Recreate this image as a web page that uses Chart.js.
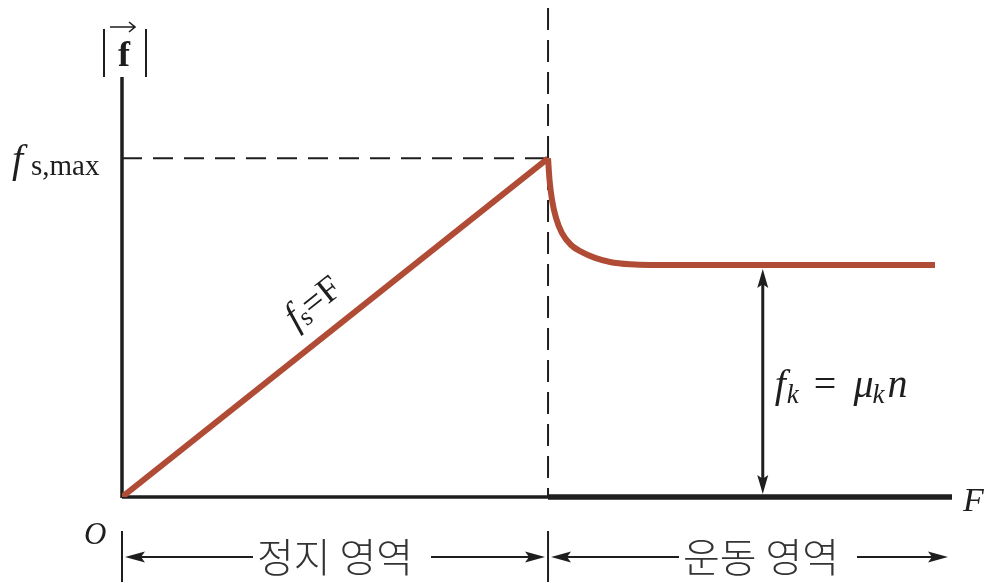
<!DOCTYPE html>
<html><head><meta charset="utf-8">
<script src="https://cdn.jsdelivr.net/npm/chart.js@4"></script>
<style>html,body{margin:0;padding:0;background:#fff;}#wrap{width:988px;height:583px;}</style>
</head><body><div id="wrap"><canvas id="c" width="988" height="583"></canvas></div>
<script>
// ---- data ----
const staticForce    = [0, 51.33];
const staticFriction = [0, 10];
const kineticForce    = [51.33, 51.51, 51.81, 52.29, 53.01, 54.10, 55.42, 56.99, 58.80, 61.20, 63.61, 97.95];
const kineticFriction = [10, 9.36, 8.77, 8.24, 7.79, 7.44, 7.23, 7.06, 6.94, 6.87, 6.85, 6.85];
const fsMax = 10;
const fkLevel = 6.85;
const fkArrowForce = 77.2;
const xMax = 100, yMax = 12.4;
const labels = {
  yAxis: 'f', fsMax: ['f', 's,max'], xAxis: 'F', origin: 'O',
  staticLine: ['f', 's', '=F'], kinetic: ['f', 'k', ' = ', 'μ', 'k', 'n'],
  staticRegion: '정지 영역', kineticRegion: '운동 영역'
};

const RED = '#b04c35', INK = '#1e1e1e';
const serif = "'Liberation Serif','DejaVu Serif',serif";
const kr = "'Noto Sans CJK KR','Noto Sans',sans-serif";

function head(ctx, x, y, ang, len, wid) {
  ctx.save(); ctx.translate(x, y); ctx.rotate(ang);
  ctx.beginPath(); ctx.moveTo(0, 0); ctx.lineTo(-len, -wid / 2); ctx.lineTo(-len * 0.8, 0); ctx.lineTo(-len, wid / 2); ctx.closePath();
  ctx.fill(); ctx.restore();
}

const deco = {
  id: 'deco',
  beforeDatasetsDraw(chart) {
    const { ctx, scales: { x, y }, chartArea: a } = chart;
    ctx.save();
    ctx.strokeStyle = INK; ctx.lineWidth = 2; ctx.setLineDash([20, 11]);
    ctx.beginPath(); ctx.moveTo(x.getPixelForValue(0), y.getPixelForValue(fsMax));
    ctx.lineTo(x.getPixelForValue(staticForce[1]), y.getPixelForValue(fsMax)); ctx.stroke();
    ctx.setLineDash([22, 10]);
    ctx.beginPath(); ctx.moveTo(x.getPixelForValue(staticForce[1]), 8);
    ctx.lineTo(x.getPixelForValue(staticForce[1]), y.getPixelForValue(0)); ctx.stroke();
    ctx.setLineDash([]);
    const x0 = x.getPixelForValue(0), y0 = y.getPixelForValue(0), xs = x.getPixelForValue(staticForce[1]);
    ctx.lineWidth = 3.5;
    ctx.beginPath(); ctx.moveTo(x0, a.top); ctx.lineTo(x0, y0 + 1); ctx.stroke();
    ctx.beginPath(); ctx.moveTo(x0, y0); ctx.lineTo(xs, y0); ctx.stroke();
    ctx.lineWidth = 5.5;
    ctx.beginPath(); ctx.moveTo(xs, y0); ctx.lineTo(a.right, y0); ctx.stroke();
    ctx.restore();
  },
  afterDatasetsDraw(chart) {
    const { ctx, scales: { x, y }, chartArea: a } = chart;
    const x0 = x.getPixelForValue(0), y0 = y.getPixelForValue(0);
    const xs = x.getPixelForValue(staticForce[1]);
    ctx.save();
    ctx.fillStyle = INK; ctx.strokeStyle = INK;
    // fk double arrow
    const xa = x.getPixelForValue(fkArrowForce), yt = y.getPixelForValue(fkLevel) + 4, yb = y0 - 3;
    ctx.lineWidth = 3;
    ctx.beginPath(); ctx.moveTo(xa, yt + 10); ctx.lineTo(xa, yb - 10); ctx.stroke();
    head(ctx, xa, yt, -Math.PI / 2, 19, 11);
    head(ctx, xa, yb, Math.PI / 2, 19, 11);
    // kinetic label
    ctx.textBaseline = 'alphabetic'; ctx.textAlign = 'left';
    let px = xa + 12, by = 397;
    ctx.font = 'italic 40px ' + serif; ctx.fillText(labels.kinetic[0], px, by); px += ctx.measureText(labels.kinetic[0]).width + 1;
    ctx.font = 'italic 27px ' + serif; ctx.fillText(labels.kinetic[1], px, by + 6); px += ctx.measureText(labels.kinetic[1]).width + 5;
    ctx.font = '40px ' + serif; ctx.fillText(labels.kinetic[2], px, by); px += ctx.measureText(labels.kinetic[2]).width + 7;
    ctx.font = 'italic 40px ' + serif; ctx.fillText(labels.kinetic[3], px, by); px += ctx.measureText(labels.kinetic[3]).width - 1;
    ctx.font = 'italic 27px ' + serif; ctx.fillText(labels.kinetic[4], px, by + 6); px += ctx.measureText(labels.kinetic[4]).width + 3;
    ctx.font = 'italic 40px ' + serif; ctx.fillText(labels.kinetic[5], px, by);
    // F axis label
    ctx.font = 'italic 34px ' + serif; ctx.fillText(labels.xAxis, a.right + 11, y0 + 14);
    // O
    ctx.font = 'italic 31px ' + serif; ctx.fillText(labels.origin, x0 - 38, y0 + 47);
    // fs,max label
    const yf = y.getPixelForValue(fsMax);
    ctx.font = 'italic 40px ' + serif; ctx.fillText(labels.fsMax[0], 12, yf + 14);
    ctx.font = '29px ' + serif; ctx.fillText(labels.fsMax[1], 31, yf + 17);
    // |f| y-axis label
    ctx.lineWidth = 2;
    ctx.beginPath(); ctx.moveTo(104, 29); ctx.lineTo(104, 77); ctx.moveTo(146, 29); ctx.lineTo(146, 77); ctx.stroke();
    ctx.font = 'bold 36px ' + serif; ctx.textAlign = 'center'; ctx.fillText(labels.yAxis, 124, 66);
    ctx.lineWidth = 1.6;
    ctx.beginPath(); ctx.moveTo(110, 27); ctx.lineTo(135, 27); ctx.moveTo(129, 22); ctx.lineTo(135, 27); ctx.lineTo(129, 32); ctx.stroke();
    // fs=F rotated label
    const ang = Math.atan2(y.getPixelForValue(staticFriction[1]) - y0, xs - x0);
    ctx.save(); ctx.translate(296, 330); ctx.rotate(ang); ctx.textAlign = 'left';
    let qx = 0;
    ctx.font = 'italic 38px ' + serif; ctx.fillText(labels.staticLine[0], qx, 0); qx += ctx.measureText(labels.staticLine[0]).width;
    ctx.font = '26px ' + serif; ctx.fillText(labels.staticLine[1], qx, 4); qx += ctx.measureText(labels.staticLine[1]).width;
    ctx.font = '36px ' + serif; ctx.fillText(labels.staticLine[2], qx, 0);
    ctx.restore();
    // region arrows
    const ya = 557;
    ctx.lineWidth = 2;
    ctx.beginPath(); ctx.moveTo(x0, 531); ctx.lineTo(x0, 582); ctx.moveTo(xs, 531); ctx.lineTo(xs, 582); ctx.stroke();
    ctx.font = '300 40px ' + kr; ctx.textAlign = 'center'; ctx.textBaseline = 'middle';
    ctx.fillStyle = '#333';
    const c1 = 335, c2 = 761;
    ctx.fillText(labels.staticRegion, c1, ya);
    ctx.fillText(labels.kineticRegion, c2, ya);
    ctx.fillStyle = INK;
    const w1 = ctx.measureText(labels.staticRegion).width / 2, w2 = ctx.measureText(labels.kineticRegion).width / 2;
    ctx.lineWidth = 2.2;
    ctx.beginPath();
    ctx.moveTo(x0 + 12, ya); ctx.lineTo(c1 - w1 - 4, ya);
    ctx.moveTo(c1 + w1 + 18, ya); ctx.lineTo(xs - 12, ya);
    ctx.moveTo(xs + 12, ya); ctx.lineTo(c2 - w2 - 4, ya);
    ctx.moveTo(c2 + w2 + 18, ya); ctx.lineTo(948 - 12, ya);
    ctx.stroke();
    head(ctx, x0 + 3, ya, Math.PI, 20, 11);
    head(ctx, xs - 3, ya, 0, 20, 11);
    head(ctx, xs + 3, ya, Math.PI, 20, 11);
    head(ctx, 948, ya, 0, 20, 11);
    ctx.restore();
  }
};

new Chart(document.getElementById('c'), {
  type: 'line',
  data: {
    datasets: [
      { data: staticForce.map((v, i) => ({ x: v, y: staticFriction[i] })), borderColor: RED, borderWidth: 6, pointRadius: 0, tension: 0, borderCapStyle: 'butt', borderJoinStyle: 'round' },
      { data: kineticForce.map((v, i) => ({ x: v, y: kineticFriction[i] })), borderColor: RED, borderWidth: 6, pointRadius: 0, cubicInterpolationMode: 'monotone', borderCapStyle: 'butt', borderJoinStyle: 'round' }
    ]
  },
  options: {
    responsive: false, animation: false, devicePixelRatio: 1,
    layout: { padding: { left: 122, right: 36, top: 77, bottom: 86 } },
    plugins: { legend: { display: false }, tooltip: { enabled: false } },
    scales: {
      x: { type: 'linear', min: 0, max: xMax, display: false },
      y: { type: 'linear', min: 0, max: yMax, display: false }
    }
  },
  plugins: [deco]
});
</script></body></html>
